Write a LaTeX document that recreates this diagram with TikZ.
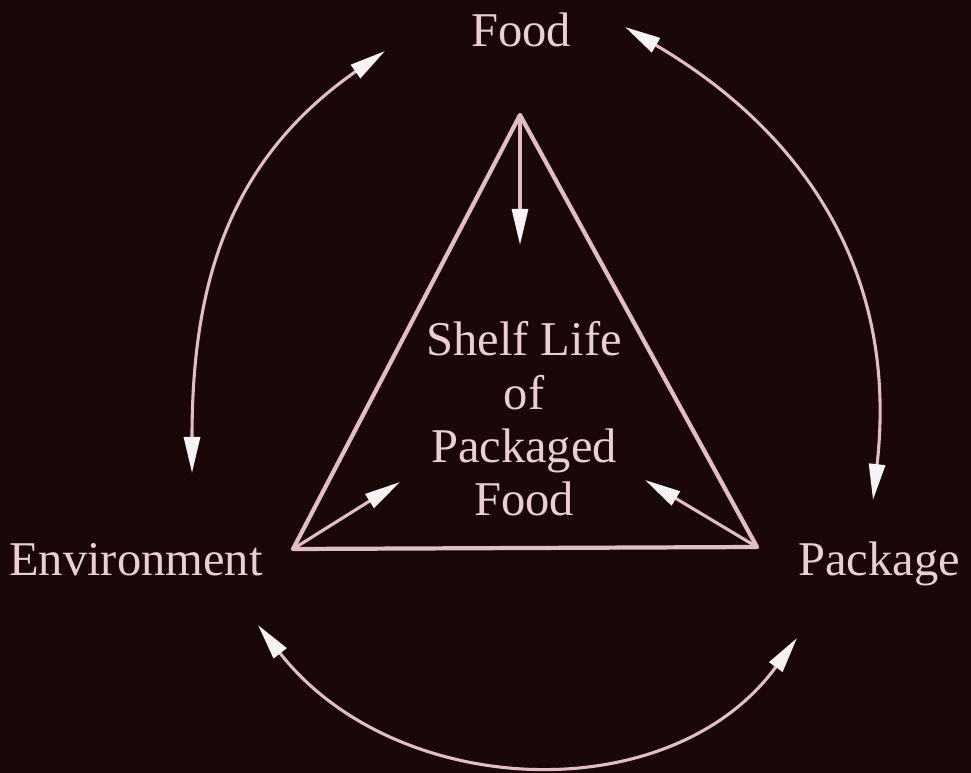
\documentclass[tikz,border=0pt]{standalone}
\usepackage{fontspec}
\setmainfont{Liberation Serif}
\usetikzlibrary{arrows.meta}
\definecolor{bgdark}{RGB}{26,8,9}
\definecolor{linepink}{RGB}{226,188,198}
\definecolor{textpink}{RGB}{234,206,212}
\definecolor{tipwhite}{RGB}{247,242,243}

\begin{document}
\begin{tikzpicture}[x=0.025cm,y=-0.025cm,
  >={Triangle[length=9mm,width=4mm,color=tipwhite]},
  lbl/.style={text=textpink,font=\fontsize{34.5}{38}\selectfont,inner sep=0pt},
  link/.style={<->,draw=linepink,line width=2.2pt},
  push/.style={->,draw=linepink,line width=2.2pt}]
  \fill[bgdark] (0,0) rectangle (971,773);
  \useasboundingbox (0,0) rectangle (971,773);

  \node[lbl,anchor=base] (food) at (521,47) {Food};
  \node[lbl,anchor=base] (env) at (136,575) {Environment};
  \node[lbl,anchor=base] (pack) at (879,575) {Package};
  \node[lbl,align=center] (shelf) at (524,419) {Shelf Life\\of\\Packaged\\Food};

  \coordinate (top) at (520,115);
  \coordinate (bl) at (293,549);
  \coordinate (br) at (757,547);
  \draw[linepink,line width=3pt,line join=round] (top) -- (bl) -- (br) -- cycle;

  \coordinate (topin) at (520,245);
  \coordinate (blin) at (400,482);
  \coordinate (brin) at (645,480);
  \draw[push] (top) -- (topin);
  \draw[push] (bl) -- (blin);
  \draw[push] (br) -- (brin);

  \coordinate (envup) at (192,473);
  \coordinate (foodl) at (385,51);
  \coordinate (foodr) at (625,27);
  \coordinate (packup) at (873,500);
  \coordinate (envlow) at (258,625);
  \coordinate (packlow) at (797,638);
  \draw[link] (envup) .. controls (192,283) and (229,160) .. (foodl);
  \draw[link] (foodr) .. controls (812,137) and (898,281) .. (packup);
  \draw[link] (envlow) .. controls (395,800) and (670,812) .. (packlow);
\end{tikzpicture}
\end{document}
